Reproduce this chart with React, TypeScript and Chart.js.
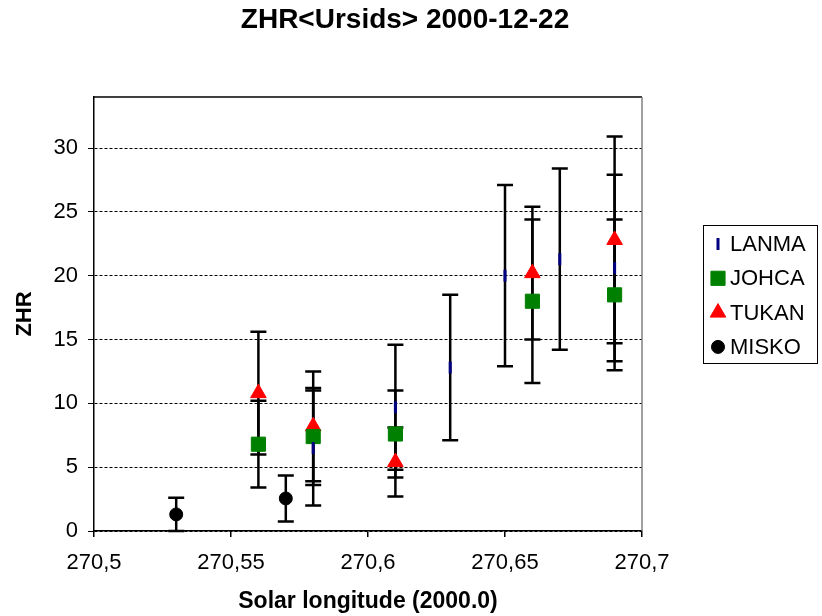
import React, { useEffect, useRef } from 'react';
import { Chart, registerables } from 'chart.js';
import { drawPoint } from 'chart.js/helpers';

Chart.register(...registerables);

const TITLE = 'ZHR<Ursids> 2000-12-22';
const X_TITLE = 'Solar longitude (2000.0)';
const Y_TITLE = 'ZHR';

const xTicks = [270.5, 270.55, 270.6, 270.65, 270.7];
const yTicks = [0, 5, 10, 15, 20, 25, 30];

const seriesNames = ['LANMA', 'JOHCA', 'TUKAN', 'MISKO'];

const lanmaX = [270.58, 270.61, 270.63, 270.65, 270.67, 270.69];
const lanmaY = [6.5, 9.7, 12.8, 20.0, 21.3, 20.6];
const lanmaErr = [4.5, 4.9, 5.7, 7.1, 7.1, 7.3];

const johcaX = [270.56, 270.58, 270.61, 270.66, 270.69];
const johcaY = [6.8, 7.4, 7.6, 18.0, 18.5];
const johcaErr = [3.4, 3.8, 3.4, 6.4, 5.9];

const tukanX = [270.56, 270.58, 270.61, 270.66, 270.69];
const tukanY = [10.8, 8.2, 5.4, 20.2, 22.8];
const tukanErr = [4.8, 4.3, 2.7, 5.2, 8.1];

const miskoX = [270.53, 270.57];
const miskoY = [1.3, 2.55];
const miskoErr = [1.3, 1.8];

const FONT = 'Liberation Sans, Arial, sans-serif';

const toPoints = (xs: number[], ys: number[]) => xs.map((x, i) => ({ x, y: ys[i] }));

const errorBarPlugin = {
  id: 'errorBars',
  beforeDatasetsDraw(chart: any) {
    const { ctx, scales } = chart;
    const xs = scales.x;
    const ys = scales.y;
    ctx.save();
    ctx.strokeStyle = '#000';
    ctx.lineWidth = 2.5;
    chart.data.datasets.forEach((ds: any) => {
      const errs: number[] = ds.errors;
      ds.data.forEach((p: any, j: number) => {
        const px = xs.getPixelForValue(p.x);
        const top = ys.getPixelForValue(p.y + errs[j]);
        const bot = ys.getPixelForValue(p.y - errs[j]);
        ctx.beginPath();
        ctx.moveTo(px, top);
        ctx.lineTo(px, bot);
        ctx.moveTo(px - 8, top);
        ctx.lineTo(px + 8, top);
        ctx.moveTo(px - 8, bot);
        ctx.lineTo(px + 8, bot);
        ctx.stroke();
      });
    });
    ctx.restore();
  },
};

const framePlugin = {
  id: 'frame',
  afterDraw(chart: any) {
    const { ctx, chartArea: a } = chart;
    ctx.save();
    ctx.lineWidth = 1.5;
    ctx.strokeStyle = '#000';
    ctx.beginPath();
    ctx.moveTo(a.left, a.top);
    ctx.lineTo(a.right, a.top);
    ctx.stroke();
    ctx.strokeStyle = '#808080';
    ctx.beginPath();
    ctx.moveTo(a.right, a.top);
    ctx.lineTo(a.right, a.bottom);
    ctx.stroke();
    ctx.restore();
  },
};

const legendPlugin = {
  id: 'boxLegend',
  afterDraw(chart: any) {
    const { ctx } = chart;
    const left = 703;
    const top = 225;
    const w = 114;
    const h = 138;
    ctx.save();
    ctx.strokeStyle = '#000';
    ctx.lineWidth = 1;
    ctx.strokeRect(left + 0.5, top + 0.5, w, h);
    ctx.font = `22px ${FONT}`;
    ctx.textBaseline = 'middle';
    ctx.textAlign = 'left';
    chart.data.datasets.forEach((ds: any, i: number) => {
      const cy = top + 19 + i * 34.3;
      const cx = left + 15;
      ctx.fillStyle = ds.pointBackgroundColor;
      ctx.strokeStyle = ds.pointBorderColor;
      ctx.lineWidth = ds.pointBorderWidth;
      drawPoint(
        ctx,
        {
          pointStyle: ds.pointStyle,
          rotation: ds.pointRotation || 0,
          radius: ds.legendRadius,
          borderWidth: ds.pointBorderWidth,
        } as any,
        cx,
        cy
      );
      ctx.fillStyle = '#000';
      ctx.fillText(ds.label, left + 27, cy + 1);
    });
    ctx.restore();
  },
};

export default function App() {
  const ref = useRef<HTMLCanvasElement | null>(null);

  useEffect(() => {
    if (!ref.current) return;
    const chart = new Chart(ref.current, {
      type: 'scatter',
      data: {
        datasets: [
          {
            label: seriesNames[0],
            data: toPoints(lanmaX, lanmaY),
            errors: lanmaErr,
            pointStyle: 'line',
            pointRotation: 90,
            pointRadius: 6,
            legendRadius: 6,
            pointBackgroundColor: '#000080',
            pointBorderColor: '#000080',
            pointBorderWidth: 3,
          } as any,
          {
            label: seriesNames[1],
            data: toPoints(johcaX, johcaY),
            errors: johcaErr,
            pointStyle: 'rect',
            pointRadius: 10,
            legendRadius: 10,
            pointBackgroundColor: '#008000',
            pointBorderColor: '#008000',
            pointBorderWidth: 1,
          } as any,
          {
            label: seriesNames[2],
            data: toPoints(tukanX, tukanY),
            errors: tukanErr,
            pointStyle: 'triangle',
            pointRadius: 9,
            legendRadius: 9,
            pointBackgroundColor: '#ff0000',
            pointBorderColor: '#ff0000',
            pointBorderWidth: 1,
          } as any,
          {
            label: seriesNames[3],
            data: toPoints(miskoX, miskoY),
            errors: miskoErr,
            pointStyle: 'circle',
            pointRadius: 6.5,
            legendRadius: 6.5,
            pointBackgroundColor: '#000000',
            pointBorderColor: '#000000',
            pointBorderWidth: 1,
          } as any,
        ],
      },
      options: {
        responsive: false,
        animation: false,
        events: [],
        layout: { padding: { left: 0, right: 12, top: 0, bottom: 0 } },
        plugins: {
          legend: { display: false },
          tooltip: { enabled: false },
          title: {
            display: true,
            text: TITLE,
            color: '#000',
            font: { family: FONT, size: 28, weight: 'bold' },
            padding: { top: 3, bottom: 60.4 },
          },
        },
        scales: {
          x: {
            type: 'linear',
            min: xTicks[0],
            max: xTicks[xTicks.length - 1],
            afterBuildTicks: (axis: any) => {
              axis.ticks = xTicks.map((v) => ({ value: v }));
            },
            afterFit: (axis: any) => {
              axis.height = 85;
            },
            ticks: {
              color: '#000',
              font: { family: FONT, size: 22 },
              padding: 13,
              maxRotation: 0,
              autoSkip: false,
              callback: (v: any) => String(Number(Number(v).toFixed(2))).replace('.', ','),
            },
            grid: { drawOnChartArea: false, drawTicks: true, tickLength: 6, color: '#000', lineWidth: 1.5 },
            border: { color: '#000', width: 1.5 },
            title: {
              display: true,
              text: X_TITLE,
              color: '#000',
              font: { family: FONT, size: 23, weight: 'bold' },
              padding: { top: 0, bottom: 1 },
            },
          },
          y: {
            type: 'linear',
            min: 0,
            max: 34,
            afterBuildTicks: (axis: any) => {
              axis.ticks = yTicks.map((v) => ({ value: v }));
            },
            afterFit: (axis: any) => {
              axis.width = 94;
            },
            ticks: {
              color: '#000',
              font: { family: FONT, size: 22 },
              padding: 10,
            },
            grid: {
              color: '#000',
              lineWidth: 1,
              tickLength: 6,
              tickColor: '#000',
            },
            border: { color: '#000', width: 1.5, dash: [3, 2] },
            title: {
              display: true,
              text: Y_TITLE,
              color: '#000',
              font: { family: FONT, size: 22, weight: 'bold' },
              padding: { top: 12, bottom: 0 },
            },
          },
          legendSpace: {
            type: 'linear',
            position: 'right',
            display: true,
            min: 0,
            max: 1,
            afterBuildTicks: (axis: any) => {
              axis.ticks = [];
            },
            afterFit: (axis: any) => {
              axis.width = 168;
            },
            ticks: { display: false },
            grid: { display: false, drawTicks: false },
            border: { display: false },
          },
        },
      } as any,
      plugins: [errorBarPlugin, framePlugin, legendPlugin],
    });
    return () => chart.destroy();
  }, []);

  return (
    <div style={{ position: 'absolute', left: 0, top: 0, width: 822, height: 616, background: '#fff' }}>
      <canvas ref={ref} width={822} height={616} />
    </div>
  );
}
